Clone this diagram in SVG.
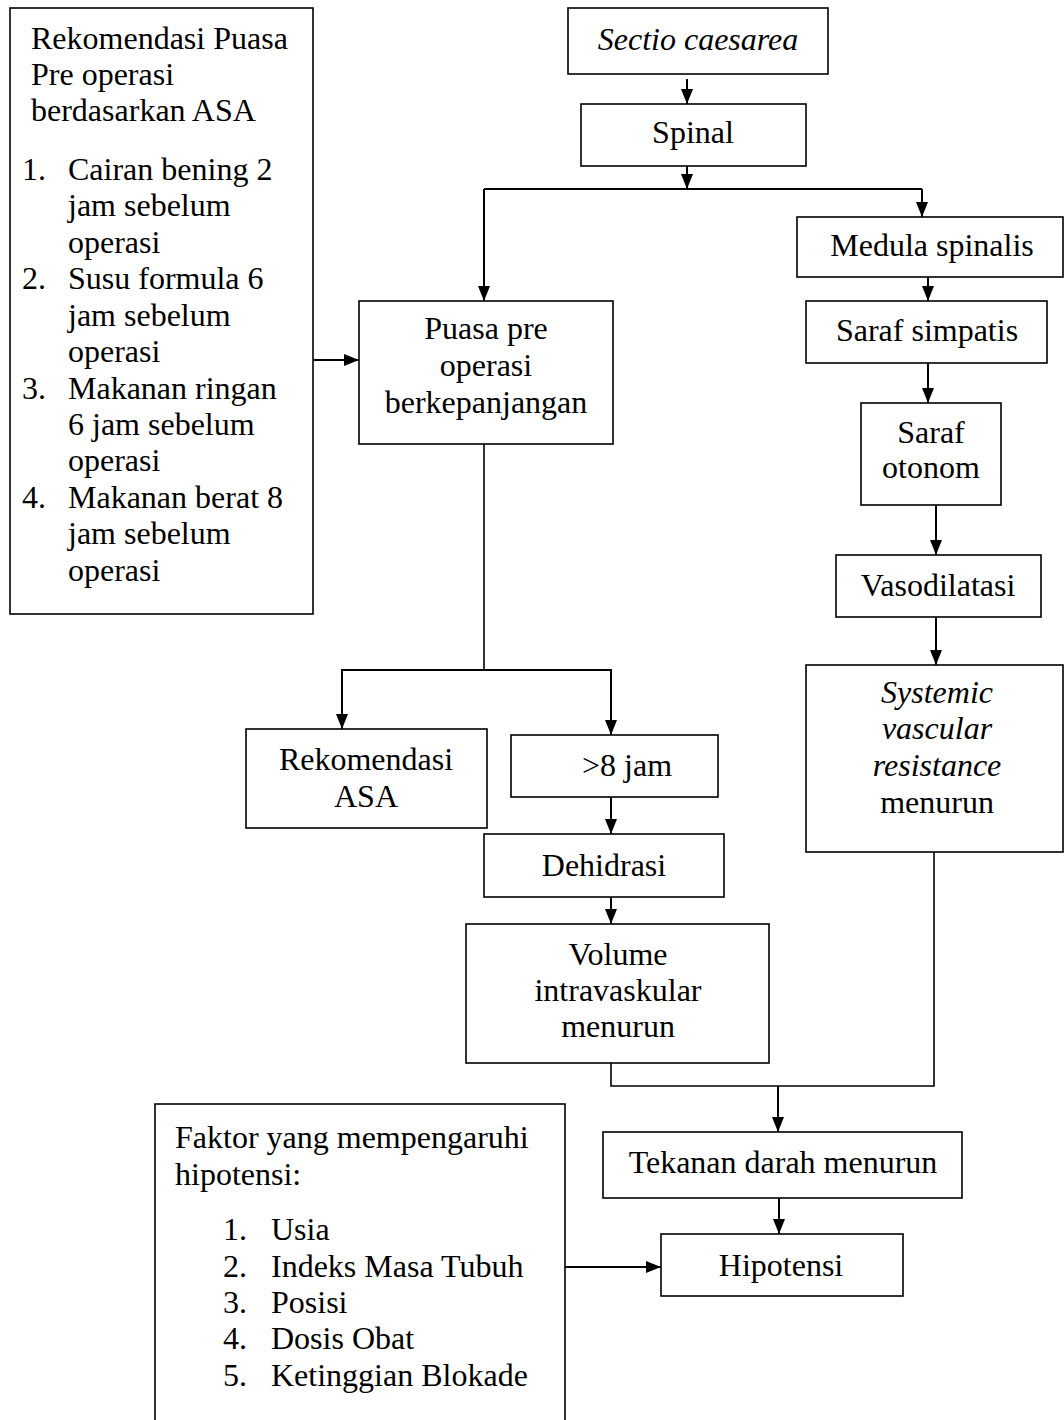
<svg xmlns="http://www.w3.org/2000/svg" width="1064" height="1420" viewBox="0 0 1064 1420">
<defs>
<style>
.box{fill:#fff;stroke:#000;stroke-width:1.6}
.t{font-family:"Liberation Serif","Times New Roman",serif;font-size:32px;fill:#000}
.c{text-anchor:middle}
.i{font-style:italic}
.ln{fill:none;stroke:#000;stroke-width:2}
.thin{fill:none;stroke:#000;stroke-width:1.6}
</style>
<marker id="ah" markerUnits="userSpaceOnUse" markerWidth="15" markerHeight="12" refX="15" refY="6" orient="auto">
<path d="M0,0 L15,6 L0,12 z" fill="#000"/>
</marker>
</defs>
<rect width="1064" height="1420" fill="#fff"/>

<g id="connectors">
<line class="ln" x1="687" y1="79" x2="687" y2="104" marker-end="url(#ah)"/>
<line class="ln" x1="687" y1="166" x2="687" y2="189" marker-end="url(#ah)"/>
<polyline class="ln" points="484,189 922,189"/>
<line class="ln" x1="484" y1="189" x2="484" y2="301" marker-end="url(#ah)"/>
<line class="ln" x1="922" y1="189" x2="922" y2="217" marker-end="url(#ah)"/>
<line class="ln" x1="928" y1="274" x2="928" y2="301" marker-end="url(#ah)"/>
<line class="ln" x1="928" y1="363" x2="928" y2="403" marker-end="url(#ah)"/>
<line class="ln" x1="936" y1="505" x2="936" y2="555" marker-end="url(#ah)"/>
<line class="ln" x1="936" y1="617" x2="936" y2="665" marker-end="url(#ah)"/>
<line class="ln" x1="314" y1="360" x2="359" y2="360" marker-end="url(#ah)"/>
<line class="thin" x1="484" y1="444" x2="484" y2="670"/>
<polyline class="ln" points="342,729 342,670 611,670 611,735" marker-end="url(#ah)"/>
<line class="ln" x1="342" y1="670" x2="342" y2="729" marker-end="url(#ah)"/>
<line class="ln" x1="611" y1="797" x2="611" y2="834" marker-end="url(#ah)"/>
<line class="ln" x1="611" y1="892" x2="611" y2="924" marker-end="url(#ah)"/>
<polyline class="thin" points="611,1063 611,1086 934,1086 934,852"/>
<line class="ln" x1="778" y1="1086" x2="778" y2="1132" marker-end="url(#ah)"/>
<line class="ln" x1="779" y1="1198" x2="779" y2="1234" marker-end="url(#ah)"/>
<line class="ln" x1="565" y1="1267" x2="661" y2="1267" marker-end="url(#ah)"/>
</g>

<g id="n-rekomendasi-puasa">
<rect class="box" x="10" y="8" width="303" height="606"/>
<text class="t" x="31" y="49">Rekomendasi Puasa</text>
<text class="t" x="31" y="85">Pre operasi</text>
<text class="t" x="31" y="121">berdasarkan ASA</text>
<text class="t" x="22" y="180">1.</text><text class="t" x="68" y="180">Cairan bening 2</text>
<text class="t" x="68" y="216">jam sebelum</text>
<text class="t" x="68" y="253">operasi</text>
<text class="t" x="22" y="289">2.</text><text class="t" x="68" y="289">Susu formula 6</text>
<text class="t" x="68" y="326">jam sebelum</text>
<text class="t" x="68" y="362">operasi</text>
<text class="t" x="22" y="399">3.</text><text class="t" x="68" y="399">Makanan ringan</text>
<text class="t" x="68" y="435">6 jam sebelum</text>
<text class="t" x="68" y="471">operasi</text>
<text class="t" x="22" y="508">4.</text><text class="t" x="68" y="508">Makanan berat 8</text>
<text class="t" x="68" y="544">jam sebelum</text>
<text class="t" x="68" y="581">operasi</text>
</g>

<g id="n-sectio">
<rect class="box" x="568" y="8" width="260" height="66"/>
<text class="t c i" x="698" y="50">Sectio caesarea</text>
</g>

<g id="n-spinal">
<rect class="box" x="581" y="104" width="225" height="62"/>
<text class="t c" x="693" y="143">Spinal</text>
</g>

<g id="n-medula">
<rect class="box" x="797" y="217" width="266" height="60"/>
<text class="t c" x="932" y="256">Medula spinalis</text>
</g>

<g id="n-simpatis">
<rect class="box" x="806" y="301" width="241" height="62"/>
<text class="t c" x="927" y="341">Saraf simpatis</text>
</g>

<g id="n-otonom">
<rect class="box" x="861" y="403" width="140" height="102"/>
<text class="t c" x="931" y="443">Saraf</text>
<text class="t c" x="931" y="478">otonom</text>
</g>

<g id="n-vasodilatasi">
<rect class="box" x="836" y="555" width="205" height="62"/>
<text class="t c" x="938" y="596">Vasodilatasi</text>
</g>

<g id="n-svr">
<rect class="box" x="806" y="665" width="257" height="187"/>
<text class="t c i" x="937" y="703">Systemic</text>
<text class="t c i" x="937" y="739">vascular</text>
<text class="t c i" x="937" y="776">resistance</text>
<text class="t c" x="937" y="813">menurun</text>
</g>

<g id="n-puasa">
<rect class="box" x="359" y="301" width="254" height="143"/>
<text class="t c" x="486" y="339">Puasa pre</text>
<text class="t c" x="486" y="376">operasi</text>
<text class="t c" x="486" y="413">berkepanjangan</text>
</g>

<g id="n-rek-asa">
<rect class="box" x="246" y="729" width="241" height="99"/>
<text class="t c" x="366" y="770">Rekomendasi</text>
<text class="t c" x="366" y="807">ASA</text>
</g>

<g id="n-8jam">
<rect class="box" x="511" y="735" width="207" height="62"/>
<text class="t c" x="627" y="776">&gt;8 jam</text>
</g>

<g id="n-dehidrasi">
<rect class="box" x="484" y="834" width="240" height="63"/>
<text class="t c" x="604" y="876">Dehidrasi</text>
</g>

<g id="n-volume">
<rect class="box" x="466" y="924" width="303" height="139"/>
<text class="t c" x="618" y="965">Volume</text>
<text class="t c" x="618" y="1001">intravaskular</text>
<text class="t c" x="618" y="1037">menurun</text>
</g>

<g id="n-tekanan">
<rect class="box" x="603" y="1132" width="359" height="66"/>
<text class="t c" x="783" y="1173">Tekanan darah menurun</text>
</g>

<g id="n-hipotensi">
<rect class="box" x="661" y="1234" width="242" height="62"/>
<text class="t c" x="781" y="1276">Hipotensi</text>
</g>

<g id="n-faktor">
<rect class="box" x="155" y="1104" width="410" height="340"/>
<text class="t" x="175" y="1148">Faktor yang mempengaruhi</text>
<text class="t" x="175" y="1185">hipotensi:</text>
<text class="t" x="223" y="1240">1.</text><text class="t" x="271" y="1240">Usia</text>
<text class="t" x="223" y="1277">2.</text><text class="t" x="271" y="1277">Indeks Masa Tubuh</text>
<text class="t" x="223" y="1313">3.</text><text class="t" x="271" y="1313">Posisi</text>
<text class="t" x="223" y="1349">4.</text><text class="t" x="271" y="1349">Dosis Obat</text>
<text class="t" x="223" y="1386">5.</text><text class="t" x="271" y="1386">Ketinggian Blokade</text>
</g>
</svg>
